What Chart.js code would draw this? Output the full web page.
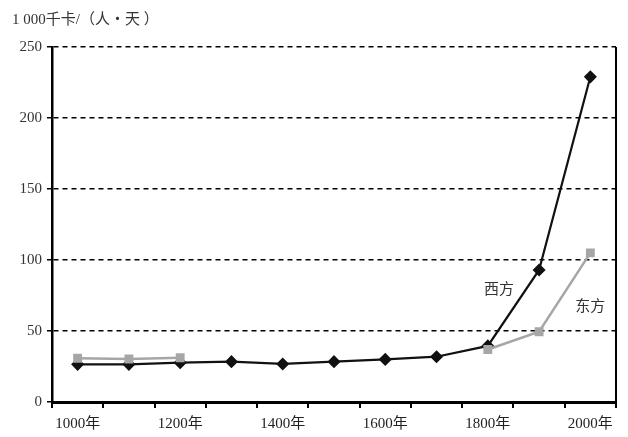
<!DOCTYPE html>
<html>
<head>
<meta charset="utf-8">
<script src="https://cdn.jsdelivr.net/npm/chart.js@4"></script>
<style>
  html, body { margin: 0; padding: 0; background: #fff; }
  #c { display: block; }
</style>
</head>
<body>
<canvas id="c" width="628" height="437"></canvas>
<script>
const years = ["1000年", "1100年", "1200年", "1300年", "1400年", "1500年", "1600年", "1700年", "1800年", "1900年", "2000年"];
const west = [26.5, 26.5, 27.7, 28.4, 26.8, 28.4, 30, 31.9, 39.5, 93, 229];
const east = [30.8, 30.3, 31.2, null, null, null, null, null, 37, 49.5, 105];
const yTicks = [0, 50, 100, 150, 200, 250];
const unitLabel = "1 000千卡/（人・天 ）";
const seriesNotes = [
  { text: "西方", x: 8.22, y: 79 },
  { text: "东方", x: 10, y: 67 }
];

const serif = "'Liberation Serif', 'DejaVu Serif', serif";
const cjk = "'Liberation Serif', 'Noto Sans CJK SC', serif";

const extras = {
  id: "extras",
  afterDraw(chart) {
    const { ctx, chartArea, scales } = chart;
    ctx.save();
    // right frame line
    ctx.strokeStyle = "#000";
    ctx.lineWidth = 2;
    ctx.beginPath();
    ctx.moveTo(chartArea.right, chartArea.top);
    ctx.lineTo(chartArea.right, chartArea.bottom);
    ctx.stroke();
    // unit label
    ctx.fillStyle = "#333";
    ctx.font = "15px " + cjk;
    ctx.textBaseline = "middle";
    ctx.textAlign = "left";
    ctx.fillText(unitLabel, 12, 20);
    // series notes
    ctx.textAlign = "center";
    seriesNotes.forEach((n) => {
      ctx.fillText(n.text, scales.x.getPixelForValue(n.x), scales.y.getPixelForValue(n.y));
    });
    ctx.restore();
  }
};

new Chart(document.getElementById("c"), {
  type: "line",
  data: {
    labels: years,
    datasets: [
      {
        label: "东方",
        data: east,
        borderColor: "#a6a6a6",
        backgroundColor: "#a6a6a6",
        borderWidth: 2.5,
        pointStyle: "rect",
        pointRadius: 4.5,
        tension: 0,
        spanGaps: false
      },
      {
        label: "西方",
        data: west,
        borderColor: "#111",
        backgroundColor: "#111",
        borderWidth: 2.2,
        pointStyle: "rectRot",
        pointRadius: 5,
        tension: 0
      }
    ]
  },
  options: {
    responsive: false,
    animation: false,
    devicePixelRatio: 1,
    layout: { padding: { top: 47, right: 12, left: 0, bottom: 0 } },
    plugins: { legend: { display: false }, tooltip: { enabled: false } },
    scales: {
      x: {
        offset: true,
        grid: { offset: true, drawOnChartArea: false, drawTicks: true, tickLength: 6, color: "#000", lineWidth: 2 },
        border: { display: true, color: "#000", width: 3 },
        ticks: {
          autoSkip: false,
          maxRotation: 0,
          padding: 7,
          color: "#222",
          font: { family: cjk, size: 15 },
          callback: (v, i) => (i % 2 === 0 ? years[i] : "")
        },
        afterFit: (s) => { s.height = 35; }
      },
      y: {
        min: 0,
        max: 250,
        afterBuildTicks: (s) => { s.ticks = yTicks.map((v) => ({ value: v })); },
        grid: { color: "#000", lineWidth: 1.5, tickLength: 5, tickBorderDash: [] },
        border: { display: true, color: "#000", width: 2.5, dash: [5, 4] },
        ticks: { autoSkip: false, padding: 5, color: "#333", font: { family: serif, size: 15 } },
        afterFit: (s) => { s.width = 52; }
      }
    }
  },
  plugins: [extras]
});
</script>
</body>
</html>
